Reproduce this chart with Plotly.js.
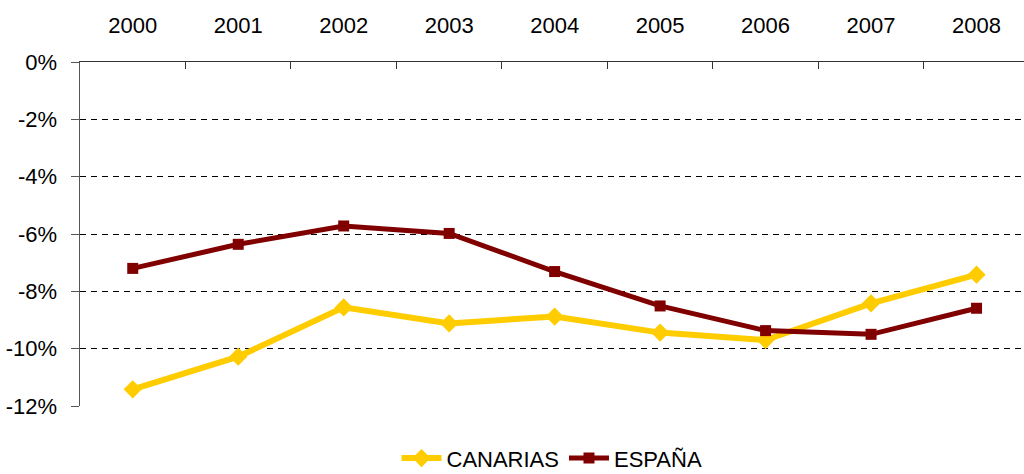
<!DOCTYPE html>
<html>
<head>
<meta charset="utf-8">
<script src="https://cdn.plot.ly/plotly-3.0.1.min.js"></script>
<style>html,body{margin:0;padding:0;background:#fff;}#chart{width:1024px;height:474px;}</style>
</head>
<body>
<div id="chart"></div>
<script>
const years = ['2000','2001','2002','2003','2004','2005','2006','2007','2008'];
const canarias = [-11.42, -10.28, -8.56, -9.12, -8.88, -9.44, -9.70, -8.42, -7.42];
const espana = [-7.20, -6.36, -5.72, -5.98, -7.31, -8.51, -9.37, -9.50, -8.59];
const yTickVals = [0, -2, -4, -6, -8, -10, -12];
const yTickText = ['0%', '-2%', '-4%', '-6%', '-8%', '-10%', '-12%'];

const traces = [
  {
    x: years, y: canarias, name: 'CANARIAS', type: 'scatter', mode: 'lines+markers',
    line: {color: '#FFCC00', width: 6},
    marker: {symbol: 'diamond', size: 14, color: '#FFCC00'}
  },
  {
    x: years, y: espana, name: 'ESPAÑA', type: 'scatter', mode: 'lines+markers',
    line: {color: '#800000', width: 5},
    marker: {symbol: 'square', size: 11, color: '#800000'}
  }
];

const layout = {
  width: 1024, height: 474,
  margin: {l: 80, r: 0, t: 62, b: 68, autoexpand: false},
  paper_bgcolor: '#fff', plot_bgcolor: '#fff',
  font: {family: 'Liberation Sans, Arial, sans-serif', size: 22, color: '#000'},
  showlegend: true,
  legend: {orientation: 'h', x: 0.5, xanchor: 'center', y: -0.152, yanchor: 'middle',
           font: {size: 22}, itemwidth: 40, tracegroupgap: 0},
  xaxis: {
    type: 'category', side: 'top', range: [-0.5, 8.45], automargin: false,
    showline: true, linecolor: '#333', linewidth: 1.5,
    ticks: 'inside', ticklen: 7, tickcolor: '#333', tickson: 'boundaries',
    showgrid: false, zeroline: false, ticklabelstandoff: 19,
    tickfont: {size: 22}
  },
  yaxis: {
    range: [-12, 0], tickvals: yTickVals, ticktext: yTickText, automargin: false,
    showline: true, linecolor: '#555', linewidth: 1.5,
    ticks: 'outside', ticklen: 8, tickcolor: '#555',
    showgrid: true, gridcolor: '#000', gridwidth: 1, griddash: '6px,5px',
    zeroline: false, ticklabelstandoff: 9, tickfont: {size: 22}
  }
};

Plotly.newPlot('chart', traces, layout, {displayModeBar: false, staticPlot: true});
</script>
</body>
</html>
